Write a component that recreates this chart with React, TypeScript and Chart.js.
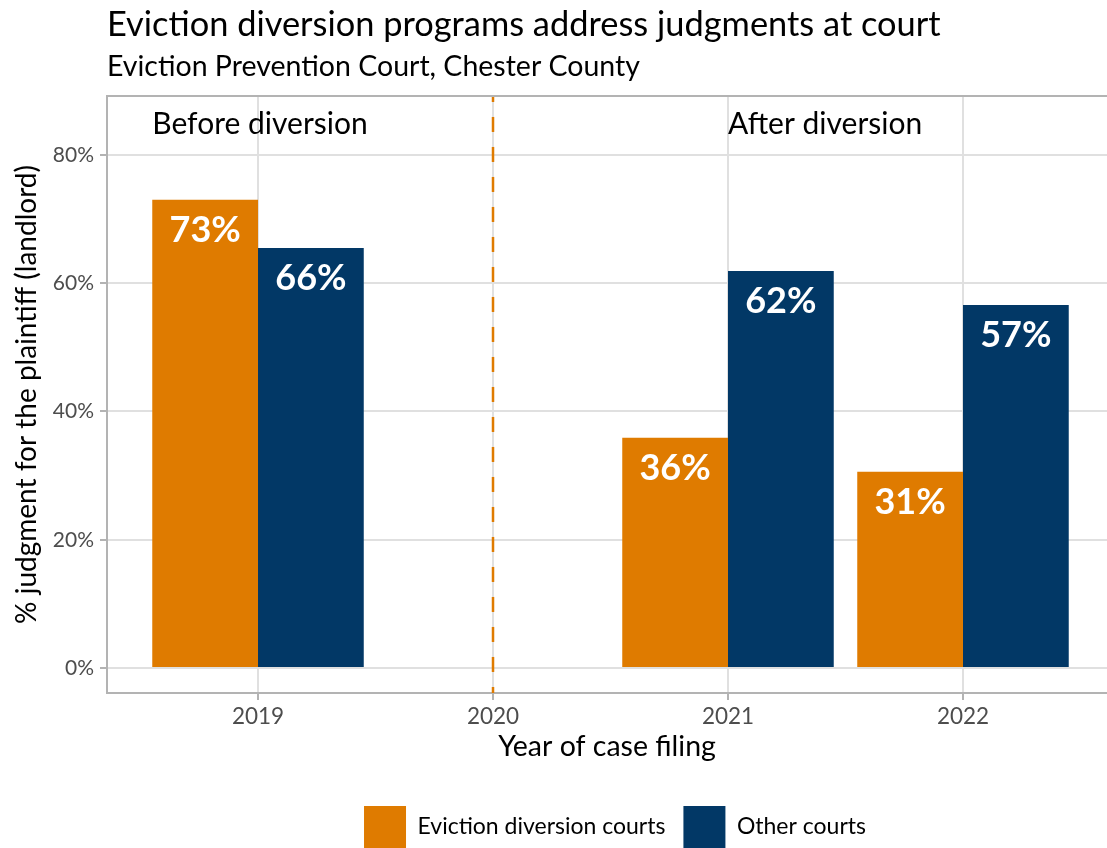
import React, { useEffect, useRef } from "react";
import { Chart, registerables } from "chart.js";

Chart.register(...registerables);

// ---------- Data ----------
const yearLabels = ["2019", "2020", "2021", "2022"];
const barPositions = [0, 2, 3]; // index into yearLabels for years with data
const diversionCourts = [73.0, 35.9, 30.6];
const otherCourts = [65.5, 61.9, 56.6];
const yTickValues = [0, 20, 40, 60, 80];
const seriesNames = ["Eviction diversion courts", "Other courts"];
const periodLabels = ["Before diversion", "After diversion"];
const periodLabelX = [-0.45, 2];
const periodLabelY = 85;
const dividerPosition = 1; // 2020

const ORANGE = "#DF7B00";
const NAVY = "#023866";
const FONT = "Lato";

const seriesValues = [diversionCourts, otherCourts];

const overlayPlugin = {
  id: "overlay",
  afterLayout(chart: any) {
    const lg = chart.legend;
    if (lg) {
      lg.left += 8;
      lg.right += 8;
    }
  },
  beforeDatasetsDraw(chart: any) {
    const { ctx, chartArea, scales } = chart;
    const x = scales.x.getPixelForValue(dividerPosition);
    ctx.save();
    ctx.strokeStyle = ORANGE;
    ctx.lineWidth = 2.5;
    ctx.setLineDash([15, 15]);
    ctx.lineDashOffset = 9;
    ctx.beginPath();
    ctx.moveTo(x, chartArea.top);
    ctx.lineTo(x, chartArea.bottom);
    ctx.stroke();
    ctx.restore();
  },
  afterDatasetsDraw(chart: any) {
    const { ctx, scales } = chart;
    ctx.save();
    ctx.fillStyle = "#ffffff";
    ctx.font = `bold 36px ${FONT}`;
    ctx.textAlign = "center";
    ctx.textBaseline = "alphabetic";
    chart.data.datasets.forEach((_ds: any, di: number) => {
      const meta = chart.getDatasetMeta(di);
      meta.data.forEach((el: any, i: number) => {
        const v = seriesValues[di][i];
        ctx.fillText(`${Math.round(v)}%`, el.x, el.y + 42);
      });
    });
    ctx.fillStyle = "#000000";
    ctx.font = `30px ${FONT}`;
    ctx.textAlign = "left";
    periodLabels.forEach((t, i) => {
      const px = scales.x.getPixelForValue(periodLabelX[i]);
      const py = scales.y.getPixelForValue(periodLabelY);
      ctx.fillText(t, px, py + 0.36 * 30);
    });
    ctx.restore();
  },
  afterDraw(chart: any) {
    const { ctx, chartArea } = chart;
    ctx.save();
    ctx.strokeStyle = "#b3b3b3";
    ctx.lineWidth = 2;
    ctx.beginPath();
    ctx.moveTo(chartArea.left - 1, chartArea.top);
    ctx.lineTo(chartArea.right, chartArea.top);
    ctx.stroke();
    ctx.restore();
  },
};

export default function App() {
  const canvasRef = useRef<HTMLCanvasElement | null>(null);

  useEffect(() => {
    if (!canvasRef.current) return;
    Chart.defaults.font.family = FONT;
    const chart = new Chart(canvasRef.current, {
      type: "bar",
      data: {
        datasets: [
          {
            label: seriesNames[0],
            data: barPositions.map((x, i) => ({ x, y: diversionCourts[i] })),
            backgroundColor: ORANGE,
            borderWidth: 0,
            categoryPercentage: 0.9,
            barPercentage: 1,
          },
          {
            label: seriesNames[1],
            data: barPositions.map((x, i) => ({ x, y: otherCourts[i] })),
            backgroundColor: NAVY,
            borderWidth: 0,
            categoryPercentage: 0.9,
            barPercentage: 1,
          },
        ],
      } as any,
      options: {
        animation: false,
        responsive: false,
        maintainAspectRatio: false,
        layout: { padding: { left: 0, right: 0, top: 0, bottom: -10 } },
        plugins: {
          tooltip: { enabled: false },
          title: {
            display: true,
            text: "Eviction diversion programs address judgments at court",
            align: "start",
            fullSize: false,
            color: "#000000",
            font: { family: FONT, size: 34.4, weight: "normal" },
            padding: { top: 4, bottom: 0 },
          },
          subtitle: {
            display: true,
            text: "Eviction Prevention Court, Chester County",
            align: "start",
            fullSize: false,
            color: "#000000",
            font: { family: FONT, size: 28.5, weight: "normal" },
            padding: { top: 4.6, bottom: 11.9 },
          },
          legend: {
            display: true,
            position: "bottom",
            align: "center",
            fullSize: false,
            labels: {
              boxWidth: 42,
              boxHeight: 42,
              padding: 18,
              color: "#000000",
              font: { family: FONT, size: 23 },
            },
          },
        },
        scales: {
          x: {
            type: "linear",
            min: -0.6426,
            max: 3.6128,
            offset: false,
            afterBuildTicks: (s: any) => {
              s.ticks = yearLabels.map((_, i) => ({ value: i }));
            },
            afterFit: (s: any) => {
              s.height = 95;
            },
            ticks: {
              callback: (v: any) => yearLabels[v] ?? "",
              color: "#4d4d4d",
              font: { family: FONT, size: 22.5 },
              padding: 3.5,
              maxRotation: 0,
              autoSkip: false,
            },
            grid: {
              offset: false,
              color: "#e0e0e0",
              lineWidth: 2,
              tickColor: "#b3b3b3",
              tickLength: 7,
            },
            border: { display: true, color: "#b3b3b3", width: 2 },
            title: {
              display: true,
              text: "Year of case filing",
              color: "#000000",
              font: { family: FONT, size: 28.5 },
              padding: { top: 0, bottom: 23.9 },
            },
          },
          y: {
            type: "linear",
            min: -3.9,
            max: 89.2,
            afterBuildTicks: (s: any) => {
              s.ticks = yTickValues.map((v) => ({ value: v }));
            },
            afterFit: (s: any) => {
              s.width = 107;
            },
            ticks: {
              callback: (v: any) => `${v}%`,
              color: "#4d4d4d",
              font: { family: FONT, size: 21 },
              padding: 6,
            },
            grid: {
              color: "#e0e0e0",
              lineWidth: 2,
              tickColor: "#b3b3b3",
              tickLength: 7,
            },
            border: { display: true, color: "#b3b3b3", width: 2 },
            title: {
              display: true,
              text: "% judgment for the plaintiff (landlord)",
              color: "#000000",
              font: { family: FONT, size: 28 },
              padding: { top: 10, bottom: 0 },
            },
          },
        },
      } as any,
      plugins: [overlayPlugin],
    });
    return () => chart.destroy();
  }, []);

  return (
    <div style={{ position: "absolute", left: 0, top: 0, width: 1107, height: 848, background: "#ffffff" }}>
      <canvas ref={canvasRef} width={1107} height={848} style={{ display: "block" }} />
    </div>
  );
}
